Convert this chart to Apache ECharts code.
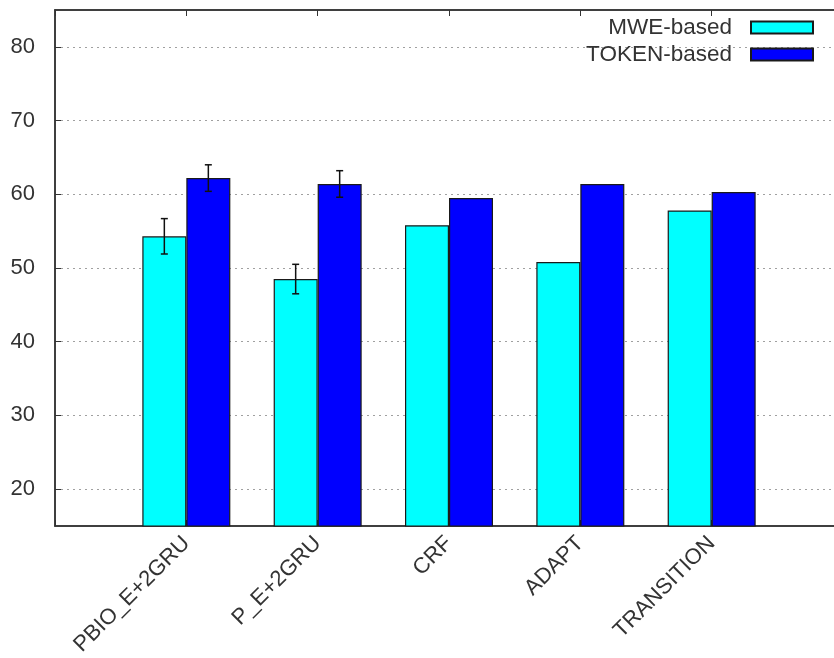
<!DOCTYPE html>
<html><head><meta charset="utf-8">
<script src="https://cdn.jsdelivr.net/npm/echarts@6/dist/echarts.min.js"></script>
<style>html,body{margin:0;padding:0;background:#fff;overflow:hidden}#c{width:834px;height:658px}</style>
</head><body><div id="c"></div>
<script>
// ---- data ----
const categories = ['PBIO_E+2GRU', 'P_E+2GRU', 'CRF', 'ADAPT', 'TRANSITION'];
const mweValues = [54.3, 48.5, 55.8, 50.8, 57.8];
const tokenValues = [62.2, 61.4, 59.5, 61.4, 60.3];
const mweErrors = [2.4, 2.0, null, null, null];
const tokenErrors = [1.8, 1.8, null, null, null];
const yTicks = [20, 30, 40, 50, 60, 70, 80];
const yMin = 15, yMax = 85;
const seriesNames = ['MWE-based', 'TOKEN-based'];

// ---- build ----
const axisCats = [''].concat(categories, ['']);
const pad = arr => ['-'].concat(arr, ['-']);
const FONT = 'Liberation Sans, Arial, sans-serif';
const TXT = '#333';
const BARW = 44;

function errData(vals, errs) {
  const out = [];
  vals.forEach((v, i) => { if (errs[i] != null) out.push([i + 1, v, errs[i]]); });
  return out;
}
function errRender(offset) {
  return function (params, api) {
    const x = api.value(0), y = api.value(1), e = api.value(2);
    const hi = api.coord([x, y + e]);
    const lo = api.coord([x, y - e]);
    const cx = hi[0] + offset, cap = 3.5;
    const st = { stroke: '#111', lineWidth: 1.5 };
    return { type: 'group', children: [
      { type: 'line', shape: { x1: cx, y1: hi[1], x2: cx, y2: lo[1] }, style: st },
      { type: 'line', shape: { x1: cx - cap, y1: hi[1], x2: cx + cap, y2: hi[1] }, style: st },
      { type: 'line', shape: { x1: cx - cap, y1: lo[1], x2: cx + cap, y2: lo[1] }, style: st }
    ]};
  };
}

const chart = echarts.init(document.getElementById('c'), null, { renderer: 'canvas' });
chart.setOption({
  animation: false,
  backgroundColor: '#fff',
  textStyle: { fontFamily: FONT },
  grid: { left: 55, width: 788, top: 10, height: 516, show: true, borderColor: '#333', borderWidth: 1.5,
          containLabel: false, outerBoundsMode: 'none' },
  legend: {
    data: seriesNames,
    orient: 'vertical', align: 'right',
    right: 20, top: 16, padding: 0,
    itemWidth: 62, itemHeight: 12, itemGap: 4,
    icon: 'rect',
    textStyle: { fontFamily: FONT, fontSize: 22.5, color: TXT, lineHeight: 20, padding: [0, 14, 0, 0] }
  },
  xAxis: [{
    type: 'category', data: axisCats, boundaryGap: false, position: 'bottom',
    axisLine: { show: true, lineStyle: { color: '#333', width: 1.5 } },
    axisTick: { show: true, inside: true, length: 6, lineStyle: { color: '#333' } },
    axisLabel: { rotate: 45, margin: 14, fontSize: 22, color: TXT, fontFamily: FONT, interval: 0 },
    splitLine: { show: false }
  }, {
    type: 'category', data: axisCats, boundaryGap: false, position: 'top',
    axisLine: { show: true, lineStyle: { color: '#333', width: 1.5 } },
    axisTick: { show: true, inside: true, length: 6, lineStyle: { color: '#333' } },
    axisLabel: { show: false },
    splitLine: { show: false }
  }],
  yAxis: {
    type: 'value', min: yMin, max: yMax, splitNumber: 7,
    axisLine: { show: true, lineStyle: { color: '#333', width: 1.5 } },
    axisTick: { show: true, inside: true, length: 6, lineStyle: { color: '#333' } },
    axisLabel: {
      fontSize: 22, color: TXT, fontFamily: FONT, margin: 20,
      showMinLabel: false, showMaxLabel: false,
      formatter: v => (yTicks.indexOf(Math.round(v)) >= 0 && Math.abs(v - Math.round(v)) < 1e-6) ? String(Math.round(v)) : ''
    },
    splitLine: { show: true, showMinLine: false, showMaxLine: false, lineStyle: { color: '#a0a0a0', type: [2, 4], width: 1.2 } }
  },
  series: [{
    name: seriesNames[0], type: 'bar', data: pad(mweValues), barWidth: BARW, barGap: '0%',
    itemStyle: { color: '#00ffff', borderColor: '#1a1a1a', borderWidth: 1.2 }
  }, {
    name: seriesNames[1], type: 'bar', data: pad(tokenValues), barWidth: BARW, barGap: '0%',
    itemStyle: { color: '#0000ff', borderColor: '#1a1a1a', borderWidth: 1.2 }
  }, {
    name: 'mweErr', type: 'custom', z: 5, data: errData(mweValues, mweErrors),
    renderItem: errRender(-BARW / 2), encode: { x: 0, y: 1 }
  }, {
    name: 'tokenErr', type: 'custom', z: 5, data: errData(tokenValues, tokenErrors),
    renderItem: errRender(BARW / 2), encode: { x: 0, y: 1 }
  }]
});
</script></body></html>
